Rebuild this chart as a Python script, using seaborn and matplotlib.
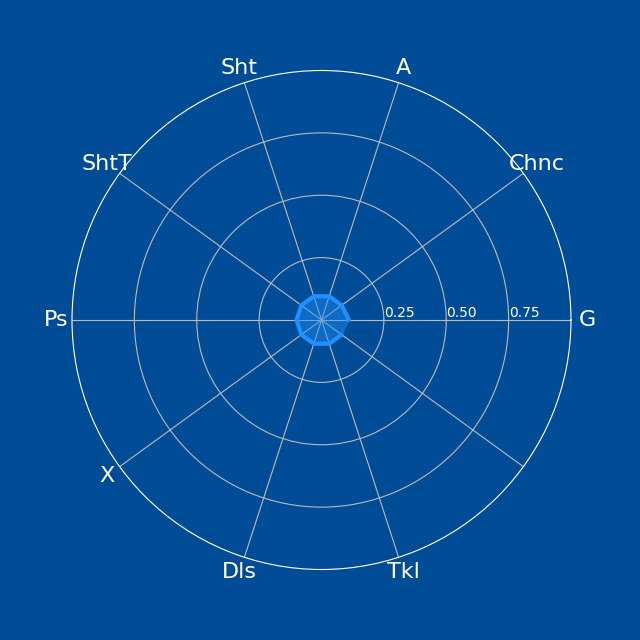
import numpy as np
import pandas as pd
import matplotlib
matplotlib.use("Agg")
import matplotlib.pyplot as plt
import seaborn as sns

# radar categories and values (10th spoke has no label)
labels = ["G", "Chnc", "A", "Sht", "ShtT", "Ps", "X", "Dls", "Tkl", ""]
values = [0.11, 0.10, 0.10, 0.10, 0.10, 0.10, 0.10, 0.10, 0.10, 0.10]
rticks = [0.25, 0.50, 0.75]

bg = "#004C97"
sns.set_style("dark")
plt.rcParams['font.family'] = ['DejaVu Sans']

angles = np.linspace(0, 2 * np.pi, len(labels), endpoint=False)
df = pd.DataFrame({"angle": np.append(angles, angles[0]),
                   "value": values + values[:1]})

fig = plt.figure(figsize=(6.4, 6.4), dpi=100, facecolor=bg)
ax = fig.add_axes([72 / 640, 70.5 / 640, 499 / 640, 499 / 640], polar=True)
ax.set_facecolor(bg)

ax.fill(df["angle"], df["value"], color="#1E90FF", alpha=0.45, zorder=3)
sns.lineplot(data=df, x="angle", y="value", sort=False, ax=ax,
             color="#1E90FF", linewidth=3, zorder=4)

ax.set_ylim(0, 1)
ax.set_yticks(rticks)
ax.set_yticklabels([f"{t:.2f}" for t in rticks], color="white", fontsize=10)
ax.set_rlabel_position(0)
ax.set_xticks(angles)
ax.set_xticklabels(labels, color="white", fontsize=16)
ax.tick_params(axis="x", pad=1)
ax.tick_params(axis="y", pad=0)
ax.grid(True, color="#BBBBBB", linewidth=0.8)
ax.spines["polar"].set_color("white")
ax.set_xlabel("")
ax.set_ylabel("")

fig.savefig("out.png", dpi=100, facecolor=bg)
